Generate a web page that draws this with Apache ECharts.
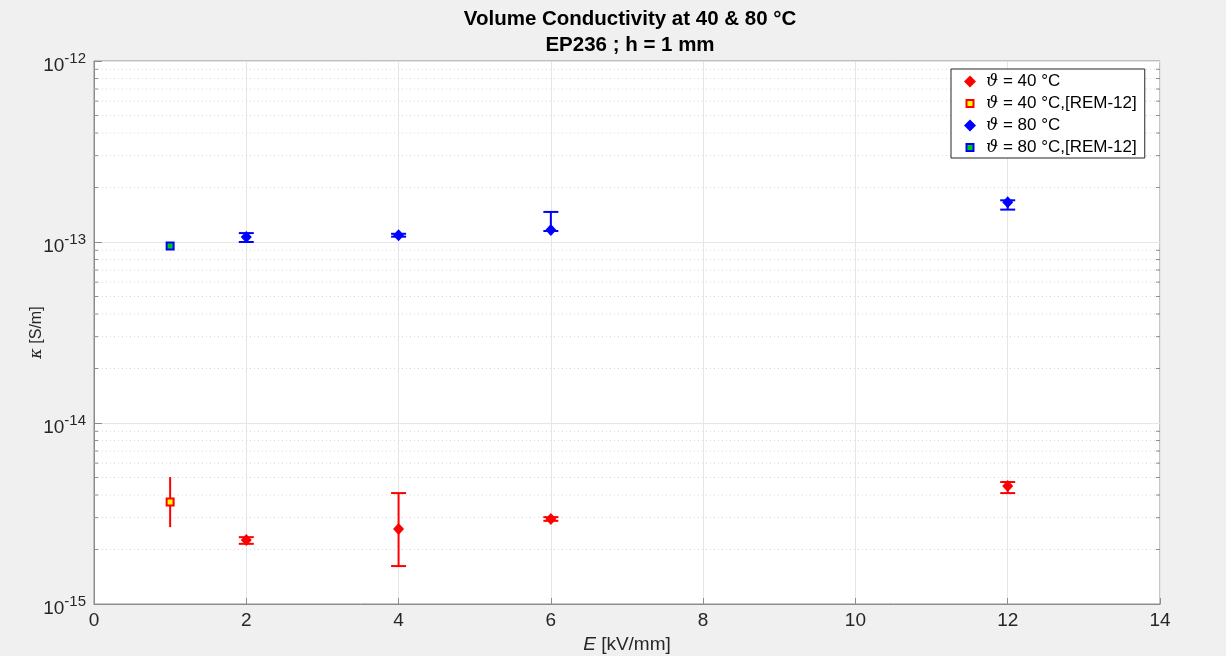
<!DOCTYPE html>
<html>
<head>
<meta charset="utf-8">
<script src="https://cdn.jsdelivr.net/npm/echarts@6/dist/echarts.min.js"></script>
<style>
  html, body { margin: 0; padding: 0; background: #f0f0f0; }
  #chart { width: 1226px; height: 656px; }
</style>
</head>
<body>
<div id="chart"></div>
<script>
// field strength E [kV/mm]
const eField = [2, 4, 6, 12];
const eRem = [1];

// conductivity at 40 °C
const k40 = [2.26e-15, 2.6e-15, 2.95e-15, 4.49e-15];
const k40Lo = [2.15e-15, 1.62e-15, 2.88e-15, 4.1e-15];
const k40Hi = [2.34e-15, 4.1e-15, 3.02e-15, 4.72e-15];
const k40Rem = [3.66e-15];
const k40RemLo = [2.66e-15];
const k40RemHi = [5.03e-15];

// conductivity at 80 °C
const k80 = [1.066e-13, 1.09e-13, 1.165e-13, 1.66e-13];
const k80Lo = [1.0e-13, 1.07e-13, 1.15e-13, 1.51e-13];
const k80Hi = [1.12e-13, 1.11e-13, 1.466e-13, 1.7e-13];
const k80Rem = [9.5e-14];

const names = ['ϑ = 40 °C', 'ϑ = 40 °C,[REM-12]', 'ϑ = 80 °C', 'ϑ = 80 °C,[REM-12]'];

// dotted minor grid lines at 2..9 x 10^k
const minorVals = [];
for (let d = -15; d < -12; d++) {
  for (let m = 2; m <= 9; m++) minorVals.push(m * Math.pow(10, d));
}

const font = 'Liberation Sans, Arial, sans-serif';
const axisGray = '#8c8c8c';
// small square legend icon (bounds padded by bare move-to points)
const smallSquare = 'path://M0,0M2.5,2.5h7v7h-7zM12,12';

function zip(xs, ys) { return xs.map((x, i) => [x, ys[i]]); }
function bars(xs, ys, lo, hi) { return xs.map((x, i) => [x, ys[i], lo[i], hi[i]]); }

function errorBar(color, capW) {
  return function (params, api) {
    const x = api.value(0);
    const pLo = api.coord([x, api.value(2)]);
    const pHi = api.coord([x, api.value(3)]);
    const style = { stroke: color, lineWidth: 2 };
    const kids = [{ type: 'line', shape: { x1: pLo[0], y1: pLo[1], x2: pHi[0], y2: pHi[1] }, style }];
    if (capW > 0) {
      kids.push({ type: 'line', shape: { x1: pLo[0] - capW / 2, y1: pLo[1], x2: pLo[0] + capW / 2, y2: pLo[1] }, style });
      kids.push({ type: 'line', shape: { x1: pHi[0] - capW / 2, y1: pHi[1], x2: pHi[0] + capW / 2, y2: pHi[1] }, style });
    }
    return { type: 'group', children: kids };
  };
}

const chart = echarts.init(document.getElementById('chart'));

chart.setOption({
  backgroundColor: '#f0f0f0',
  animation: false,
  title: {
    text: 'Volume Conductivity at 40 & 80 °C\nEP236 ; h = 1 mm',
    left: 625,
    top: 1,
    textAlign: 'center',
    textStyle: { fontFamily: font, fontSize: 20.5, fontWeight: 'bold', color: '#000', lineHeight: 26 }
  },
  grid: {
    left: 94, right: 66, top: 61, bottom: 52,
    outerBoundsMode: 'none',
    containLabel: false,
    show: true, backgroundColor: '#fff', borderColor: axisGray, borderWidth: 1
  },
  legend: {
    data: [
      { name: names[0] },
      { name: names[1], icon: smallSquare },
      { name: names[2] },
      { name: names[3], icon: smallSquare }
    ],
    orient: 'vertical',
    left: 951,
    top: 69,
    padding: [4, 8, 2, 12],
    itemGap: 5,
    itemWidth: 12,
    itemHeight: 12,
    backgroundColor: '#fff',
    borderColor: '#262626',
    borderWidth: 1,
    borderRadius: 0,
    formatter: n => '{i|ϑ}' + n.slice(1),
    textStyle: {
      fontFamily: font, fontSize: 17, color: '#000', lineHeight: 17,
      rich: { i: { fontFamily: 'DejaVu Serif, serif', fontStyle: 'italic', fontSize: 17, padding: [0, 0, 0, 5] } }
    }
  },
  xAxis: {
    type: 'value',
    min: 0, max: 14, interval: 2,
    name: '{i|E} [kV/mm]',
    nameLocation: 'middle',
    nameGap: 30,
    nameTextStyle: {
      fontFamily: font, fontSize: 19, color: '#262626',
      rich: { i: { fontFamily: font, fontStyle: 'italic', fontSize: 19, color: '#262626' } }
    },
    axisLine: { show: true, lineStyle: { color: axisGray } },
    axisTick: { show: true, inside: true, length: 6, lineStyle: { color: axisGray } },
    axisLabel: { fontFamily: font, fontSize: 19, color: '#262626', margin: 7 },
    splitLine: { show: true, lineStyle: { color: '#e6e6e6' } }
  },
  yAxis: {
    type: 'log',
    logBase: 10,
    min: 1e-15, max: 1e-12,
    interval: 1,
    name: '{i|κ} [S/m]',
    nameLocation: 'middle',
    nameRotate: 90,
    nameGap: 49,
    nameMoveOverlap: false,
    nameTextStyle: {
      fontFamily: font, fontSize: 16, color: '#262626',
      rich: { i: { fontFamily: 'DejaVu Serif, serif', fontStyle: 'italic', fontSize: 16, color: '#262626' } }
    },
    axisLine: { show: true, lineStyle: { color: axisGray } },
    axisTick: { show: true, inside: true, length: 8, lineStyle: { color: axisGray } },
    axisLabel: {
      margin: 8,
      formatter: v => '{b|10}{s|' + Math.round(Math.log10(v)) + '}',
      rich: {
        b: { fontFamily: font, fontSize: 19, color: '#262626', padding: [10, 0, 0, 0] },
        s: { fontFamily: font, fontSize: 15, color: '#262626', padding: [0, 0, 4, 0] }
      }
    },
    splitLine: { show: true, lineStyle: { color: '#e6e6e6' } }
  },
  series: [
    {
      type: 'custom',
      silent: true,
      z: 1,
      data: minorVals.map(v => [0, v]),
      renderItem: function (params, api) {
        const a = api.coord([0, api.value(1)]);
        const b = api.coord([14, api.value(1)]);
        return {
          type: 'group',
          children: [
            { type: 'line', shape: { x1: a[0], y1: a[1], x2: b[0], y2: b[1] },
              style: { stroke: '#d6d6d6', lineWidth: 1, lineDash: [1, 3] } },
            { type: 'line', shape: { x1: a[0], y1: a[1], x2: a[0] + 4, y2: a[1] },
              style: { stroke: axisGray, lineWidth: 1 } },
            { type: 'line', shape: { x1: b[0], y1: b[1], x2: b[0] - 4, y2: b[1] },
              style: { stroke: axisGray, lineWidth: 1 } }
          ]
        };
      }
    },
    { type: 'custom', silent: true, z: 3, data: bars(eField, k40, k40Lo, k40Hi), renderItem: errorBar('#ff0000', 15) },
    { type: 'custom', silent: true, z: 3, data: bars(eRem, k40Rem, k40RemLo, k40RemHi), renderItem: errorBar('#ff0000', 0) },
    { type: 'custom', silent: true, z: 3, data: bars(eField, k80, k80Lo, k80Hi), renderItem: errorBar('#0000ff', 15) },
    {
      name: names[0], type: 'scatter', z: 5,
      symbol: 'diamond', symbolSize: [11, 12],
      itemStyle: { color: '#ff0000', opacity: 1 },
      data: zip(eField, k40)
    },
    {
      name: names[1], type: 'scatter', z: 5,
      symbol: 'rect', symbolSize: 7,
      itemStyle: { color: '#ffff00', borderColor: '#ff0000', borderWidth: 2, opacity: 1 },
      data: zip(eRem, k40Rem)
    },
    {
      name: names[2], type: 'scatter', z: 5,
      symbol: 'diamond', symbolSize: [11, 12],
      itemStyle: { color: '#0000ff', opacity: 1 },
      data: zip(eField, k80)
    },
    {
      name: names[3], type: 'scatter', z: 5,
      symbol: 'rect', symbolSize: 7,
      itemStyle: { color: '#00cc00', borderColor: '#0000ff', borderWidth: 2, opacity: 1 },
      data: zip(eRem, k80Rem)
    }
  ]
});
</script>
</body>
</html>
